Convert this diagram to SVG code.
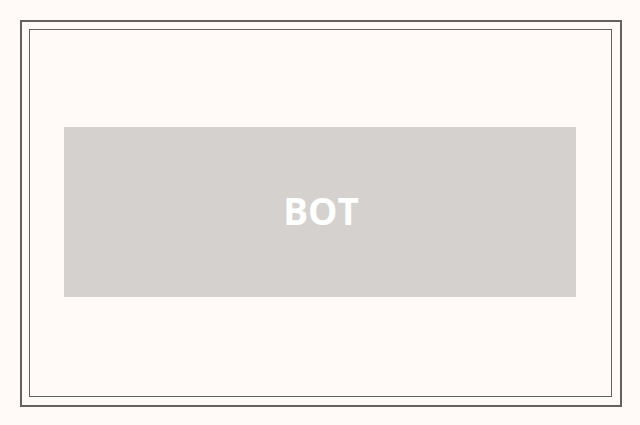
<svg xmlns="http://www.w3.org/2000/svg" width="640" height="425" viewBox="0 0 640 425">
<style>
.frame{fill:none;stroke:#66615f}
.box{fill:#d4d1ce}
.lbl{font-family:"Open Sans","Noto Sans",sans-serif;font-weight:bold;font-size:37px;fill:#ffffff}
</style>
<rect x="0" y="0" width="640" height="425" fill="#fffaf7"/>
<rect class="frame" x="21" y="21" width="600" height="385" stroke-width="2"/>
<rect class="frame" x="29.5" y="29.5" width="582" height="367" stroke-width="1"/>
<g id="node-bot">
<rect class="box" x="64" y="127" width="512" height="170"/>
<text class="lbl" x="321" y="225" text-anchor="middle">BOT</text>
</g>
<g id="connectors"/>
</svg>
